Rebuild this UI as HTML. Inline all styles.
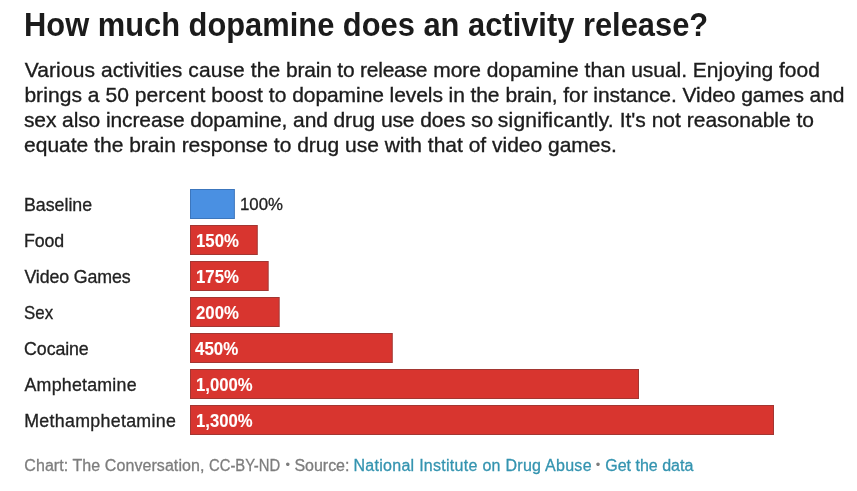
<!DOCTYPE html>
<html lang="en"><head><meta charset="utf-8"><title>How much dopamine does an activity release?</title>
<style>
html,body{margin:0;padding:0;background:#fff;}
body{width:857px;height:491px;position:relative;overflow:hidden;font-family:"Liberation Sans",sans-serif;}
h1,p,ul,li{margin:0;padding:0;font:inherit;list-style:none;}
.t{position:absolute;transform-origin:0 0;white-space:nowrap;margin:0;line-height:1;}
svg.bars{position:absolute;left:0;top:0;}
a{color:inherit;text-decoration:none}
</style></head><body>
<h1 class="t" id="title" style="left:24.43px;top:8.00px;font-size:33.4px;font-weight:bold;color:#1b1b1b;transform:scaleX(0.9241);">How much dopamine does an activity release?</h1>
<p class="desc">
<span class="t" id="d1a" style="left:24.73px;top:59.00px;font-size:21px;font-weight:normal;color:#1c1c1c;-webkit-text-stroke:0.35px #1c1c1c;letter-spacing:0.094px;">Various activities cause the</span>
<span class="t" id="d1b" style="left:286.10px;top:59.00px;font-size:21px;font-weight:normal;color:#1c1c1c;-webkit-text-stroke:0.35px #1c1c1c;letter-spacing:-0.221px;">brain to release</span>
<span class="t" id="d1c" style="left:433.16px;top:59.00px;font-size:21px;font-weight:normal;color:#1c1c1c;-webkit-text-stroke:0.35px #1c1c1c;letter-spacing:-0.024px;">more dopamine than usual. Enjoying food</span>
<span class="t" id="d2a" style="left:24.38px;top:84.00px;font-size:21px;font-weight:normal;color:#1c1c1c;-webkit-text-stroke:0.35px #1c1c1c;letter-spacing:0.061px;">brings a 50 percent boost to</span>
<span class="t" id="d2b" style="left:292.23px;top:84.00px;font-size:21px;font-weight:normal;color:#1c1c1c;-webkit-text-stroke:0.35px #1c1c1c;letter-spacing:-0.078px;">dopamine levels in the</span>
<span class="t" id="d2c" style="left:505.48px;top:84.00px;font-size:21px;font-weight:normal;color:#1c1c1c;-webkit-text-stroke:0.35px #1c1c1c;letter-spacing:-0.075px;">brain, for instance. Video games and</span>
<span class="t" id="d3a" style="left:23.97px;top:109.00px;font-size:21px;font-weight:normal;color:#1c1c1c;-webkit-text-stroke:0.35px #1c1c1c;letter-spacing:-0.103px;">sex also increase dopamine, and drug use does so</span>
<span class="t" id="d3b" style="left:497.80px;top:109.00px;font-size:21px;font-weight:normal;color:#1c1c1c;-webkit-text-stroke:0.35px #1c1c1c;letter-spacing:0.237px;">significantly.</span>
<span class="t" id="d3c" style="left:619.64px;top:109.00px;font-size:21px;font-weight:normal;color:#1c1c1c;-webkit-text-stroke:0.35px #1c1c1c;letter-spacing:0.006px;">It's not reasonable to</span>
<span class="t" id="d4" style="left:24.10px;top:134.00px;font-size:21px;font-weight:normal;color:#1c1c1c;-webkit-text-stroke:0.35px #1c1c1c;letter-spacing:-0.005px;">equate the brain response to drug use with that of video games.</span>
</p>
<svg class="bars" width="857" height="491" viewBox="0 0 857 491">
<rect x="190" y="189" width="44.9" height="30" fill="#3c76bd"/><rect x="191" y="190" width="42.9" height="28" fill="#4a90e2"/>
<rect x="190" y="225" width="67.8" height="30" fill="#a33632"/><rect x="191" y="226" width="65.8" height="28" fill="#d8352f"/>
<rect x="190" y="261" width="78.7" height="30" fill="#a33632"/><rect x="191" y="262" width="76.7" height="28" fill="#d8352f"/>
<rect x="190" y="297" width="89.7" height="30" fill="#a33632"/><rect x="191" y="298" width="87.7" height="28" fill="#d8352f"/>
<rect x="190" y="333" width="202.8" height="30" fill="#a33632"/><rect x="191" y="334" width="200.8" height="28" fill="#d8352f"/>
<rect x="190" y="369" width="449" height="30" fill="#a33632"/><rect x="191" y="370" width="447.0" height="28" fill="#d8352f"/>
<rect x="190" y="405" width="584" height="30" fill="#a33632"/><rect x="191" y="406" width="582.0" height="28" fill="#d8352f"/>
</svg>
<ul class="chart">
<li><span class="t" id="l1" style="left:23.96px;top:197.00px;font-size:17.8px;font-weight:normal;color:#222;-webkit-text-stroke:0.3px #222;letter-spacing:-0.011px;">Baseline</span> <span class="t" id="v1" style="left:240.37px;top:196.00px;font-size:17.4px;font-weight:normal;color:#222;-webkit-text-stroke:0.3px #222;transform:scaleX(0.9672);">100%</span></li>
<li><span class="t" id="l2" style="left:23.96px;top:233.00px;font-size:17.8px;font-weight:normal;color:#222;-webkit-text-stroke:0.3px #222;letter-spacing:-0.110px;">Food</span> <span class="t" id="v2" style="left:196.08px;top:231.00px;font-size:19px;font-weight:bold;color:#fff;-webkit-text-stroke:0.1px #fff;transform:scaleX(0.8831);">150%</span></li>
<li><span class="t" id="l3" style="left:24.43px;top:269.00px;font-size:17.8px;font-weight:normal;color:#222;-webkit-text-stroke:0.3px #222;letter-spacing:-0.113px;">Video Games</span> <span class="t" id="v3" style="left:196.08px;top:267.00px;font-size:19px;font-weight:bold;color:#fff;-webkit-text-stroke:0.1px #fff;transform:scaleX(0.8831);">175%</span></li>
<li><span class="t" id="l4" style="left:24.34px;top:305.00px;font-size:17.8px;font-weight:normal;color:#222;-webkit-text-stroke:0.3px #222;transform:scaleX(0.9487);">Sex</span> <span class="t" id="v4" style="left:195.72px;top:303.00px;font-size:19px;font-weight:bold;color:#fff;-webkit-text-stroke:0.1px #fff;transform:scaleX(0.8816);">200%</span></li>
<li><span class="t" id="l5" style="left:24.12px;top:341.00px;font-size:17.8px;font-weight:normal;color:#222;-webkit-text-stroke:0.3px #222;letter-spacing:-0.098px;">Cocaine</span> <span class="t" id="v5" style="left:195.25px;top:339.00px;font-size:19px;font-weight:bold;color:#fff;-webkit-text-stroke:0.1px #fff;transform:scaleX(0.8896);">450%</span></li>
<li><span class="t" id="l6" style="left:24.49px;top:377.00px;font-size:17.8px;font-weight:normal;color:#222;-webkit-text-stroke:0.3px #222;letter-spacing:0.238px;">Amphetamine</span> <span class="t" id="v6" style="left:196.08px;top:375.00px;font-size:19px;font-weight:bold;color:#fff;-webkit-text-stroke:0.1px #fff;transform:scaleX(0.8782);">1,000%</span></li>
<li><span class="t" id="l7" style="left:24.24px;top:413.00px;font-size:17.8px;font-weight:normal;color:#222;-webkit-text-stroke:0.3px #222;letter-spacing:0.306px;">Methamphetamine</span> <span class="t" id="v7" style="left:196.08px;top:411.00px;font-size:19px;font-weight:bold;color:#fff;-webkit-text-stroke:0.1px #fff;transform:scaleX(0.8782);">1,300%</span></li>
</ul>
<p class="foot">
<span class="t" id="f1a" style="left:24.29px;top:458.00px;font-size:16px;font-weight:normal;color:#7d7d7d;-webkit-text-stroke:0.3px #7d7d7d;letter-spacing:0.072px;">Chart: The Conversation,</span>
<span class="t" id="f1b" style="left:208.71px;top:458.00px;font-size:16px;font-weight:normal;color:#7d7d7d;-webkit-text-stroke:0.3px #7d7d7d;transform:scaleX(0.9262);">CC-BY-ND</span>
<span class="t" id="b1" style="left:285.54px;top:458.00px;font-size:13px;font-weight:normal;color:#7d7d7d;">•</span>
<span class="t" id="f3" style="left:294.43px;top:458.00px;font-size:16px;font-weight:normal;color:#7d7d7d;-webkit-text-stroke:0.3px #7d7d7d;letter-spacing:-0.019px;">Source:</span>
<a class="t" id="f4" style="left:353.54px;top:458.00px;font-size:16px;font-weight:normal;color:#3494b0;-webkit-text-stroke:0.3px #3494b0;letter-spacing:0.275px;">National Institute on Drug Abuse</a>
<span class="t" id="b2" style="left:595.84px;top:458.00px;font-size:13px;font-weight:normal;color:#7d7d7d;">•</span>
<a class="t" id="f6" style="left:605.27px;top:458.00px;font-size:16px;font-weight:normal;color:#3494b0;-webkit-text-stroke:0.3px #3494b0;letter-spacing:0.001px;">Get the data</a>
</p>
</body></html>
